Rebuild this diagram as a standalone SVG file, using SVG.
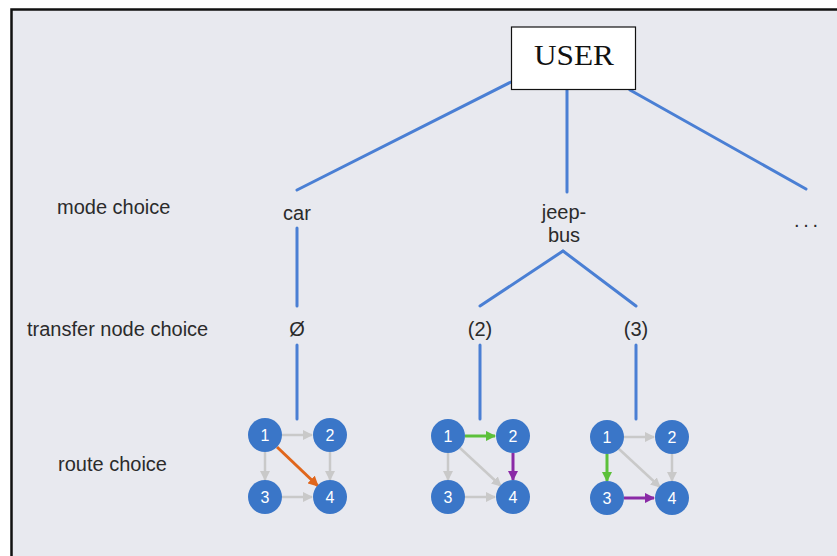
<svg xmlns="http://www.w3.org/2000/svg" width="837" height="556" viewBox="0 0 837 556">
<defs>
<style>
.lbl{font-family:"Liberation Sans",Arial,sans-serif;font-size:20px;fill:#2b2b2b}
.tree{stroke:#4a7fd4;stroke-width:3;fill:none;stroke-linecap:round}
.nd{fill:#3a76c8}
.nt{font-family:"Liberation Sans",Arial,sans-serif;font-size:16px;fill:#ffffff;text-anchor:middle}
.g{stroke:#c9c9c9;stroke-width:2.5;fill:none}
.or{stroke:#e0661c;stroke-width:3;fill:none}
.gr{stroke:#5cc03a;stroke-width:3;fill:none}
.pu{stroke:#8a2aa6;stroke-width:3;fill:none}
</style>
<marker id="ag" viewBox="0 0 10 10" refX="9" refY="5" markerWidth="4" markerHeight="4" orient="auto" markerUnits="strokeWidth"><path d="M0,0L10,5L0,10z" fill="#c9c9c9"/></marker>
<marker id="ao" viewBox="0 0 10 10" refX="9" refY="5" markerWidth="3.5" markerHeight="3.5" orient="auto" markerUnits="strokeWidth"><path d="M0,0L10,5L0,10z" fill="#e0661c"/></marker>
<marker id="agr" viewBox="0 0 10 10" refX="9" refY="5" markerWidth="3.5" markerHeight="3.5" orient="auto" markerUnits="strokeWidth"><path d="M0,0L10,5L0,10z" fill="#5cc03a"/></marker>
<marker id="apu" viewBox="0 0 10 10" refX="9" refY="5" markerWidth="3.5" markerHeight="3.5" orient="auto" markerUnits="strokeWidth"><path d="M0,0L10,5L0,10z" fill="#8a2aa6"/></marker>
</defs>
<rect x="0" y="0" width="837" height="556" fill="#ffffff"/>
<rect x="12" y="10" width="825" height="546" fill="#e8e9ef"/>
<path d="M11.5,556V9.5H837" stroke="#111" stroke-width="2.5" fill="none"/>

<g id="levels">
<text class="lbl" x="57" y="214">mode choice</text>
<text class="lbl" x="27" y="336">transfer node choice</text>
<text class="lbl" x="58" y="471">route choice</text>
</g>

<g id="connectors">
<line class="tree" x1="511" y1="82" x2="297" y2="190"/>
<line class="tree" x1="567" y1="90" x2="567" y2="192"/>
<line class="tree" x1="630" y1="90" x2="806" y2="189"/>
<line class="tree" x1="297" y1="228" x2="297" y2="306"/>
<line class="tree" x1="563" y1="251" x2="480" y2="306"/>
<line class="tree" x1="563" y1="251" x2="636" y2="306"/>
<line class="tree" x1="297" y1="345" x2="297" y2="419"/>
<line class="tree" x1="480" y1="345" x2="480" y2="419"/>
<line class="tree" x1="636" y1="345" x2="636" y2="419"/>
</g>

<g id="user">
<rect x="511.5" y="27" width="124" height="62.5" fill="#ffffff" stroke="#111" stroke-width="1.2"/>
<text x="534" y="65" font-family="'Liberation Serif','Times New Roman',serif" font-size="29" fill="#111" textLength="80" lengthAdjust="spacingAndGlyphs">USER</text>
</g>

<g id="car"><text class="lbl" x="297" y="220" text-anchor="middle">car</text></g>
<g id="jeepbus"><text class="lbl" x="564" y="219" text-anchor="middle">jeep-</text><text class="lbl" x="564" y="242" text-anchor="middle">bus</text></g>
<g id="more"><text class="lbl" x="794" y="227" textLength="24" lengthAdjust="spacing">...</text></g>
<g id="empty"><text class="lbl" x="297" y="336" text-anchor="middle">Ø</text></g>
<g id="t2"><text class="lbl" x="480" y="336" text-anchor="middle">(2)</text></g>
<g id="t3"><text class="lbl" x="636" y="336" text-anchor="middle">(3)</text></g>

<g id="route-car">
<line class="g" x1="282" y1="435" x2="312" y2="435" marker-end="url(#ag)"/>
<line class="g" x1="265" y1="452" x2="265" y2="480" marker-end="url(#ag)"/>
<line class="g" x1="330" y1="452" x2="330" y2="480" marker-end="url(#ag)"/>
<line class="g" x1="282" y1="497" x2="312" y2="497" marker-end="url(#ag)"/>
<line class="or" x1="277" y1="447" x2="318" y2="486" marker-end="url(#ao)"/>
<circle class="nd" cx="265" cy="435" r="17"/><text class="nt" x="265" y="441">1</text>
<circle class="nd" cx="330" cy="435" r="17"/><text class="nt" x="330" y="441">2</text>
<circle class="nd" cx="265" cy="497" r="17"/><text class="nt" x="265" y="503">3</text>
<circle class="nd" cx="330" cy="497" r="17"/><text class="nt" x="330" y="503">4</text>
</g>

<g id="route-2">
<line class="g" x1="448" y1="453" x2="448" y2="480" marker-end="url(#ag)"/>
<line class="g" x1="465" y1="497" x2="495" y2="497" marker-end="url(#ag)"/>
<line class="g" x1="460" y1="448" x2="501" y2="486" marker-end="url(#ag)"/>
<line class="gr" x1="465" y1="436" x2="495" y2="436" marker-end="url(#agr)"/>
<line class="pu" x1="513" y1="453" x2="513" y2="480" marker-end="url(#apu)"/>
<circle class="nd" cx="448" cy="436" r="17"/><text class="nt" x="448" y="442">1</text>
<circle class="nd" cx="513" cy="436" r="17"/><text class="nt" x="513" y="442">2</text>
<circle class="nd" cx="448" cy="497" r="17"/><text class="nt" x="448" y="503">3</text>
<circle class="nd" cx="513" cy="497" r="17"/><text class="nt" x="513" y="503">4</text>
</g>

<g id="route-3">
<line class="g" x1="624" y1="437" x2="654" y2="437" marker-end="url(#ag)"/>
<line class="g" x1="672" y1="454" x2="672" y2="481" marker-end="url(#ag)"/>
<line class="g" x1="619" y1="449" x2="660" y2="487" marker-end="url(#ag)"/>
<line class="gr" x1="607" y1="454" x2="607" y2="481" marker-end="url(#agr)"/>
<line class="pu" x1="624" y1="498" x2="654" y2="498" marker-end="url(#apu)"/>
<circle class="nd" cx="607" cy="437" r="17"/><text class="nt" x="607" y="443">1</text>
<circle class="nd" cx="672" cy="437" r="17"/><text class="nt" x="672" y="443">2</text>
<circle class="nd" cx="607" cy="498" r="17"/><text class="nt" x="607" y="504">3</text>
<circle class="nd" cx="672" cy="498" r="17"/><text class="nt" x="672" y="504">4</text>
</g>
</svg>
